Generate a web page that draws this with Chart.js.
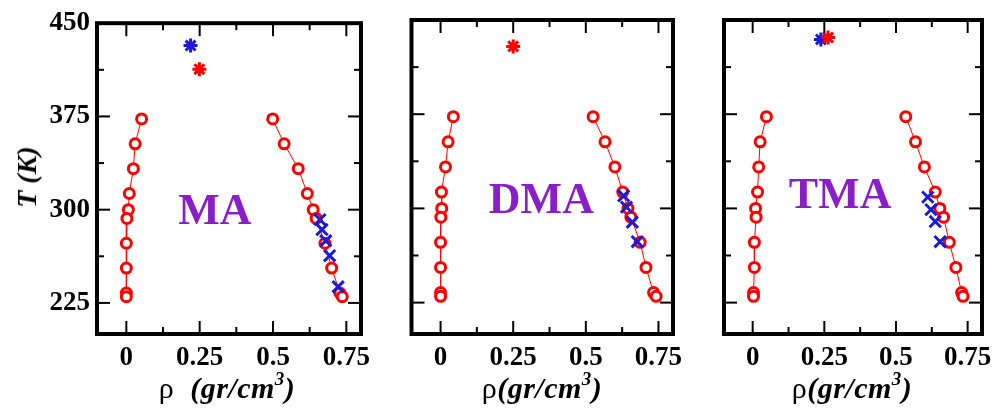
<!DOCTYPE html>
<html>
<head>
<meta charset="utf-8">
<script src="https://cdn.jsdelivr.net/npm/chart.js@4"></script>
<style>
  body { margin: 0; background: #fff; }
  #wrap { position: relative; width: 1000px; height: 412px; overflow: hidden; }
  #wrap canvas { position: absolute; left: 0; top: 0; }
  .xt {
    position: absolute; top: 373px; transform: translateX(-50%);
    font-family: "Liberation Serif", serif; font-size: 30px; line-height: 30px;
    white-space: nowrap; color: #000; letter-spacing: 0.5px;
  }
  .xt i { font-weight: bold; }
  .xt sup { font-size: 19px; vertical-align: 13px; line-height: 0; }
  #yt {
    position: absolute; left: 27px; top: 177px;
    transform: translate(-50%, -50%) rotate(-90deg);
    font-family: "Liberation Serif", serif; font-size: 28px; font-weight: bold; font-style: italic;
    white-space: nowrap;
  }
</style>
</head>
<body>
<div id="wrap">
  <canvas id="c1" width="1000" height="412"></canvas>
  <canvas id="c2" width="1000" height="412"></canvas>
  <canvas id="c3" width="1000" height="412"></canvas>
  <div id="yt">T (K)</div>
  <div class="xt" style="left:227px">ρ&nbsp; <i>(gr/cm<sup>3</sup>)</i></div>
  <div class="xt" style="left:542px">ρ<i>(gr/cm<sup>3</sup>)</i></div>
  <div class="xt" style="left:852px">ρ<i>(gr/cm<sup>3</sup>)</i></div>
</div>
<script>
// temperatures of the coexistence points (same for both branches)
const coexT = [373, 353, 333, 313, 300, 293, 273, 253, 233, 230];

// MA
const maVapor  = [0.052, 0.030, 0.024, 0.010, 0.007, 0.002, 0, 0, 0, 0];
const maLiquid = [0.499, 0.538, 0.586, 0.617, 0.637, 0.647, 0.677, 0.700, 0.728, 0.736];
const maCrossRho = [0.660, 0.667, 0.680, 0.693, 0.722];
const maCrossT   = [292, 284, 275, 263, 238];
const maBlueStar = [0.219, 432];
const maRedStar  = [0.249, 413];

// DMA
const dmaVapor  = [0.044, 0.026, 0.017, 0.003, 0.004, 0.001, 0, 0, 0, 0];
const dmaLiquid = [0.525, 0.566, 0.600, 0.627, 0.645, 0.655, 0.687, 0.707, 0.733, 0.742];
const dmaCrossRho = [0.630, 0.640, 0.660, 0.677];
const dmaCrossT   = [310, 301, 289, 273.5];
const dmaBlueStar = null;
const dmaRedStar  = [0.250, 429];

// TMA
const tmaVapor  = [0.048, 0.026, 0.021, 0.017, 0.010, 0.012, 0.006, 0.006, 0.003, 0.003];
const tmaLiquid = [0.534, 0.568, 0.599, 0.637, 0.653, 0.666, 0.686, 0.709, 0.729, 0.734];
const tmaCrossRho = [0.611, 0.622, 0.637, 0.654];
const tmaCrossT   = [309, 299, 289.5, 273.5];
const tmaBlueStar = [0.238, 434.5];
const tmaRedStar  = [0.263, 436];

// axes
const xTicks = [0, 0.25, 0.5, 0.75];
const xMinor = [0.125, 0.375, 0.625];
const yTicks = [225, 300, 375, 450];
const yMinor = [262.5, 337.5, 412.5];

const RED = '#ff0000';
const BLUE = '#1a1ad8';
const PURPLE = '#8a1fc8';

const pts = (xs, ys) => xs.map((v, i) => ({ x: v, y: ys[i] }));

// frame, inward ticks on all four sides and the molecule name
const framePlugin = {
  id: 'frame',
  afterDraw(chart, args, opts) {
    const { ctx, chartArea: a, scales: { x, y } } = chart;
    ctx.save();
    ctx.strokeStyle = '#000';
    ctx.lineWidth = 2;
    const seg = (x1, y1, x2, y2) => { ctx.beginPath(); ctx.moveTo(x1, y1); ctx.lineTo(x2, y2); ctx.stroke(); };
    const xt = (v, len) => { const p = x.getPixelForValue(v); seg(p, a.bottom, p, a.bottom - len); seg(p, a.top, p, a.top + len); };
    const yt = (v, len) => { const p = y.getPixelForValue(v); seg(a.left, p, a.left + len, p); seg(a.right, p, a.right - len, p); };
    xTicks.forEach(v => xt(v, 13));
    xMinor.forEach(v => xt(v, 7));
    yTicks.forEach(v => yt(v, 13));
    yMinor.forEach(v => yt(v, 7));
    ctx.lineWidth = 4;
    ctx.strokeRect(a.left, a.top, a.right - a.left, a.bottom - a.top);

    ctx.fillStyle = PURPLE;
    ctx.font = 'bold 44px "Liberation Serif"';
    ctx.textAlign = 'center';
    ctx.textBaseline = 'alphabetic';
    ctx.fillText(opts.name, x.getPixelForValue(opts.at[0]), y.getPixelForValue(opts.at[1]));
    ctx.restore();
  }
};

function makePanel(id, p) {
  const datasets = [
    { data: pts(p.crossRho, p.crossT), pointStyle: 'crossRot', pointRadius: 8,
      pointBorderWidth: 3, borderColor: BLUE, showLine: false },
    { data: pts(p.vapor, coexT), showLine: true, borderColor: RED, borderWidth: 1,
      pointRadius: 5, pointBorderWidth: 3, pointBorderColor: RED, pointBackgroundColor: '#fff' },
    { data: pts(p.liquid, coexT), showLine: true, borderColor: RED, borderWidth: 1,
      pointRadius: 5, pointBorderWidth: 3, pointBorderColor: RED, pointBackgroundColor: '#fff' },
    { data: p.redStar ? [{ x: p.redStar[0], y: p.redStar[1] }] : [], pointStyle: 'star',
      pointRadius: 7, pointBorderWidth: 3, borderColor: RED, showLine: false },
    { data: p.blueStar ? [{ x: p.blueStar[0], y: p.blueStar[1] }] : [], pointStyle: 'star',
      pointRadius: 7, pointBorderWidth: 3, borderColor: BLUE, showLine: false }
  ];
  const tickFont = { family: '"Liberation Serif"', size: 27, weight: 'bold' };
  new Chart(document.getElementById(id), {
    type: 'scatter',
    data: { datasets },
    options: {
      responsive: false,
      animation: false,
      events: [],
      layout: { padding: p.pad },
      plugins: {
        legend: { display: false },
        tooltip: { enabled: false },
        frame: { name: p.name, at: p.at }
      },
      scales: {
        x: {
          type: 'linear', min: -0.1, max: 0.8,
          grid: { display: false, drawTicks: false }, border: { display: false },
          afterBuildTicks: s => { s.ticks = xTicks.map(v => ({ value: v })); },
          afterFit: s => { s.height = 40; },
          ticks: { color: '#000', font: tickFont, padding: 8, maxRotation: 0, autoSkip: false,
                   callback: v => String(v) }
        },
        y: {
          type: 'linear', min: 200, max: 450,
          grid: { display: false, drawTicks: false }, border: { display: false },
          afterBuildTicks: s => { s.ticks = yTicks.map(v => ({ value: v })); },
          afterFit: s => { s.width = p.yWidth; },
          ticks: { display: p.showY, color: '#000', font: tickFont, padding: 7,
                   callback: v => String(v) }
        }
      }
    },
    plugins: [framePlugin]
  });
}

makePanel('c1', {
  name: 'MA', at: [0.302, 288.5], showY: true, yWidth: 94,
  pad: { left: 3, right: 639, top: 20, bottom: 38 },
  vapor: maVapor, liquid: maLiquid, crossRho: maCrossRho, crossT: maCrossT,
  blueStar: maBlueStar, redStar: maRedStar
});
makePanel('c2', {
  name: 'DMA', at: [0.347, 296.3], showY: false, yWidth: 40,
  pad: { left: 371.5, right: 327, top: 20, bottom: 38 },
  vapor: dmaVapor, liquid: dmaLiquid, crossRho: dmaCrossRho, crossT: dmaCrossT,
  blueStar: dmaBlueStar, redStar: dmaRedStar
});
makePanel('c3', {
  name: 'TMA', at: [0.305, 300.3], showY: false, yWidth: 40,
  pad: { left: 684, right: 13, top: 20, bottom: 38 },
  vapor: tmaVapor, liquid: tmaLiquid, crossRho: tmaCrossRho, crossT: tmaCrossT,
  blueStar: tmaBlueStar, redStar: tmaRedStar
});
</script>
</body>
</html>
